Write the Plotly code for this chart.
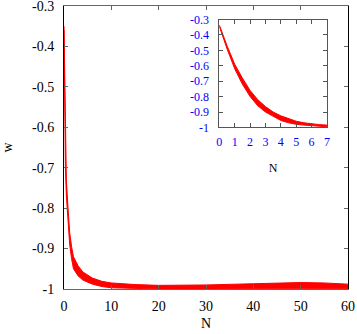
import plotly.graph_objects as go

# dados do grafico principal (faixa de w contra N)
n_main = [0, 0.1, 0.2, 0.3, 0.5, 0.8, 1.2, 1.6, 2.0, 3.0, 4.0, 6.0, 8.0, 10, 15, 20, 30, 40, 45, 50, 55, 60]
w_main_sup = [-0.35, -0.45, -0.56, -0.66, -0.73, -0.79, -0.86, -0.895, -0.92, -0.943, -0.958, -0.973, -0.981, -0.985, -0.989, -0.991, -0.99, -0.987, -0.985, -0.984, -0.985, -0.988]
w_main_inf = [-0.36, -0.48, -0.60, -0.70, -0.77, -0.82, -0.89, -0.925, -0.95, -0.968, -0.978, -0.988, -0.994, -0.997, -0.999, -1.0, -1.0, -1.0, -0.999, -0.999, -0.999, -0.999]

# dados do detalhe (inset)
n_ins = [0, 0.5, 1, 1.5, 2, 2.5, 3, 3.5, 4, 4.5, 5, 5.5, 6, 6.5, 7]
w_ins_sup = [-0.335, -0.47, -0.59, -0.68, -0.76, -0.82, -0.865, -0.90, -0.925, -0.945, -0.96, -0.97, -0.978, -0.982, -0.985]
w_ins_inf = [-0.345, -0.49, -0.62, -0.72, -0.80, -0.86, -0.90, -0.93, -0.955, -0.97, -0.98, -0.985, -0.99, -0.994, -0.996]

ticks_w = [-1, -0.9, -0.8, -0.7, -0.6, -0.5, -0.4, -0.3]
ticks_w_txt = ['-1', '-0.9', '-0.8', '-0.7', '-0.6', '-0.5', '-0.4', '-0.3']

serif = 'Liberation Serif'
vermelho = '#ff0000'

fig = go.Figure()

fig.add_trace(go.Scatter(x=n_main, y=w_main_inf, mode='lines', line=dict(color=vermelho, width=1), showlegend=False))
fig.add_trace(go.Scatter(x=n_main, y=w_main_sup, mode='lines', line=dict(color=vermelho, width=1),
                         fill='tonexty', fillcolor=vermelho, showlegend=False))

fig.add_trace(go.Scatter(x=n_ins, y=w_ins_inf, mode='lines', line=dict(color=vermelho, width=1),
                         xaxis='x2', yaxis='y2', showlegend=False))
fig.add_trace(go.Scatter(x=n_ins, y=w_ins_sup, mode='lines', line=dict(color=vermelho, width=1),
                         fill='tonexty', fillcolor=vermelho, xaxis='x2', yaxis='y2', showlegend=False))

fig.update_layout(
    width=357, height=334,
    margin=dict(l=64, r=9, t=6, b=45, autoexpand=False),
    paper_bgcolor='white', plot_bgcolor='white',
    font=dict(family=serif, size=14, color='black'),
    xaxis=dict(range=[0, 60], tickvals=[0, 10, 20, 30, 40, 50, 60], ticks='inside', ticklen=4,
               mirror='allticks', showline=True, linecolor='#666', linewidth=1, tickcolor='#666',
               showgrid=False, zeroline=False, ticklabelstandoff=4, automargin=False,
               ticklabeloverflow='allow',
               title=dict(text='N', standoff=5, font=dict(size=14))),
    yaxis=dict(range=[-1, -0.3], ticks='inside', ticklen=4,
               mirror='allticks', showline=True, linecolor='black', linewidth=1, tickcolor='#666',
               showgrid=False, zeroline=False, ticklabelstandoff=6, automargin=False,
               ticklabeloverflow='allow',
               tickvals=ticks_w, ticktext=ticks_w_txt,
               title=dict(text='w', standoff=28, font=dict(size=14))),
    xaxis2=dict(domain=[0.547, 0.926], anchor='y2', range=[0, 7], dtick=1, ticks='inside', ticklen=4,
                mirror='allticks', showline=True, linecolor='#555', linewidth=1, tickcolor='#555',
                showgrid=False, zeroline=False, ticklabelstandoff=3, automargin=False,
                tickfont=dict(color='blue', size=12),
                title=dict(text='N', standoff=15, font=dict(size=12))),
    yaxis2=dict(domain=[0.571, 0.952], anchor='x2', range=[-1, -0.3], ticks='inside', ticklen=4,
                mirror='allticks', showline=True, linecolor='#555', linewidth=1, tickcolor='#555',
                showgrid=False, zeroline=False, ticklabelstandoff=7, automargin=False,
                tickvals=ticks_w, ticktext=ticks_w_txt,
                tickfont=dict(color='blue', size=12)),
)

# tira a margem padrao do body para a figura ficar no canto
fig.write_html("out.html", config={'displayModeBar': False},
               post_script="document.body.style.margin='0';")
